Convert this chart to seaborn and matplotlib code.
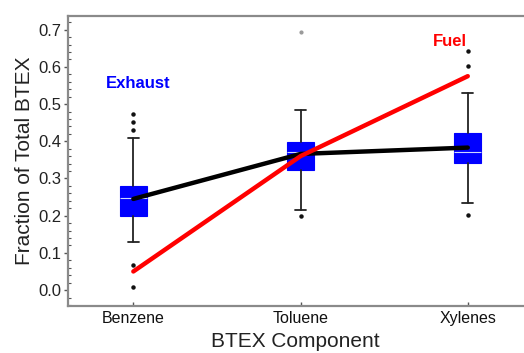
import matplotlib
matplotlib.use("Agg")
import matplotlib.pyplot as plt
from matplotlib.ticker import MultipleLocator, FormatStrFormatter
import seaborn as sns
import pandas as pd

# BTEX components on the category axis
components = ["Benzene", "Toluene", "Xylenes"]

# Exhaust distribution summary (box plot statistics per component)
q1 = [0.199, 0.323, 0.342]
median = [0.247, 0.371, 0.371]
q3 = [0.281, 0.399, 0.423]
whisker_low = [0.129, 0.215, 0.233]
whisker_high = [0.410, 0.485, 0.531]
outliers = [[0.474, 0.453, 0.431, 0.067, 0.009],
            [0.200],
            [0.202, 0.601, 0.644]]
# lone extreme point drawn in grey above Toluene
grey_outlier = [None, 0.693, None]

# Mean exhaust fraction and fuel fraction per component
exhaust_mean = [0.245, 0.366, 0.383]
fuel_fraction = [0.050, 0.360, 0.575]

sns.set_theme(style="white")
plt.rcParams["font.family"] = ["Liberation Sans", "DejaVu Sans"]

fig = plt.figure(figsize=(5.24, 3.53), dpi=100)
ax = fig.add_axes([0.130, 0.134, 0.868, 0.822])

positions = list(range(len(components)))
stats = []
for i, name in enumerate(components):
    stats.append({
        "label": name,
        "q1": q1[i], "med": median[i], "q3": q3[i],
        "whislo": whisker_low[i], "whishi": whisker_high[i],
        "fliers": outliers[i],
    })

ax.bxp(stats, positions=positions, widths=0.16, patch_artist=True,
       boxprops=dict(facecolor="#0000ff", edgecolor="#0000ff", linewidth=0.8),
       medianprops=dict(color="#cfd8ff", linewidth=0.8),
       whiskerprops=dict(color="#222222", linewidth=1.3),
       capprops=dict(color="#222222", linewidth=1.3),
       capwidths=0.065,
       flierprops=dict(marker="o", markersize=2.2, markerfacecolor="#111111",
                       markeredgecolor="#111111", linestyle="none"),
       zorder=2)

for i, v in enumerate(grey_outlier):
    if v is not None:
        ax.plot(positions[i], v, "o", ms=2.0, color="#9a9a9a", zorder=2)

lines = pd.DataFrame({
    "pos": positions * 2,
    "value": exhaust_mean + fuel_fraction,
    "source": ["Exhaust"] * 3 + ["Fuel"] * 3,
})
sns.lineplot(data=lines, x="pos", y="value", hue="source",
             palette={"Exhaust": "black", "Fuel": "#ff0000"},
             linewidth=3.2, legend=False, ax=ax, zorder=3)

ax.text(0.03, 0.555, "Exhaust", color="#0000ff", fontsize=12,
        fontweight="bold", ha="center", va="center")
ax.text(1.89, 0.667, "Fuel", color="#ff0000", fontsize=12,
        fontweight="bold", ha="center", va="center")

ax.set_xlim(-0.39, 2.33)
ax.set_ylim(-0.042, 0.738)
ax.set_xticks(positions)
ax.set_xticklabels(components)
ax.yaxis.set_major_locator(MultipleLocator(0.1))
ax.yaxis.set_minor_locator(MultipleLocator(0.02))
ax.yaxis.set_major_formatter(FormatStrFormatter("%.1f"))

ax.tick_params(axis="y", which="major", direction="out", length=3, width=1,
               color="#555555", labelsize=12, labelcolor="#222222", pad=2,
               left=True)
ax.tick_params(axis="y", which="minor", direction="in", length=2, width=0.8,
               color="#555555", left=True)
ax.tick_params(axis="x", which="major", direction="in", length=3, width=1,
               color="#555555", labelsize=11.5, labelcolor="#111111", pad=4,
               bottom=True)

ax.set_xlabel("BTEX Component", fontsize=15, color="#222222", labelpad=4)
ax.set_ylabel("Fraction of Total BTEX", fontsize=15, color="#222222", labelpad=3)

for side in ["left", "bottom", "top"]:
    ax.spines[side].set_color("#8a8a8a")
    ax.spines[side].set_linewidth(1.6)
ax.spines["right"].set_visible(False)

fig.savefig("out.png", dpi=100)
